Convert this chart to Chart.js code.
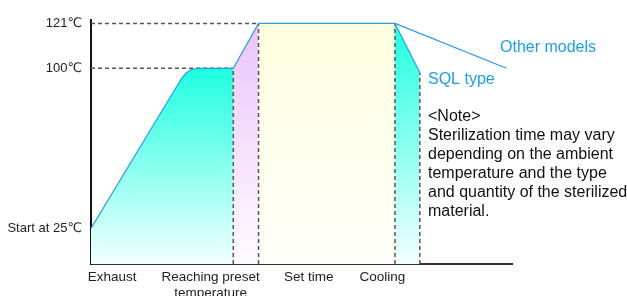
<!DOCTYPE html>
<html>
<head>
<meta charset="utf-8">
<style>
  html, body { margin: 0; padding: 0; background: #ffffff; }
  #wrap { width: 627px; height: 296px; position: relative; }
</style>
<script src="https://cdn.jsdelivr.net/npm/chart.js@4.4.1/dist/chart.umd.min.js"></script>
</head>
<body>
<div id="wrap"><canvas id="c" width="627" height="296"></canvas></div>
<script>
// ---- data (time in arbitrary units 0..100, temperature in ℃) ----
const rampTime  = [0, 20.2, 21.5, 22.6, 23.8, 25.4, 33.8];
const rampTemp  = [25, 91.0, 95.2, 97.8, 99.3, 100, 100];
const heatTime  = [33.8, 39.8];
const heatTemp  = [100, 121];
const holdTime  = [39.8, 72.2];
const holdTemp  = [121, 121];
const sqlCoolTime   = [72.2, 78.1];
const sqlCoolTemp   = [121, 98];
const otherCoolTime = [72.2, 98.7];
const otherCoolTemp = [121, 100];

const yTickValues = [25, 100, 121];
const yTickLabels = ['Start at 25℃', '100℃', '121℃'];
const xTickValues = [5.0, 28.4, 51.7, 69.2];
const xTickLabels = ['Exhaust', ['Reaching preset', 'temperature'], 'Set time', 'Cooling'];

const seriesNames = ['Other models', 'SQL type'];
const noteLines = ['<Note>', 'Sterilization time may vary', 'depending on the ambient',
                   'temperature and the type', 'and quantity of the sterilized', 'material.'];

const X_MIN = 0, X_MAX = 100, Y_MIN = 8.4, Y_MAX = 122.6;

// ---- helpers ----
const pts = (xs, ys) => xs.map((x, i) => ({ x, y: ys[i] }));
const LINE = '#2a9be6';
const FONT = "'Liberation Sans', Arial, 'DejaVu Sans', sans-serif";

function grad(topColor, bottomColor, topTemp) {
  return (ctx) => {
    const chart = ctx.chart;
    const area = chart.chartArea;
    if (!area) return topColor;
    const yTop = chart.scales.y.getPixelForValue(topTemp);
    const g = chart.ctx.createLinearGradient(0, yTop, 0, area.bottom);
    g.addColorStop(0, topColor);
    g.addColorStop(1, bottomColor);
    return g;
  };
}

// guide (dashed) lines built from phase data
const plateauEnd = rampTime[rampTime.length - 1];
const heatEnd = heatTime[1];
const holdEnd = holdTime[1];
const sqlEnd = sqlCoolTime[1];
const guides = [
  pts([X_MIN, heatEnd], [holdTemp[0], holdTemp[0]]),
  pts([X_MIN, plateauEnd], [heatTemp[0], heatTemp[0]]),
  pts([plateauEnd, plateauEnd], [Y_MIN, heatTemp[0]]),
  pts([heatEnd, heatEnd], [Y_MIN, heatTemp[1]]),
  pts([holdEnd, holdEnd], [Y_MIN, holdTemp[1]]),
  pts([sqlEnd, sqlEnd], [Y_MIN, sqlCoolTemp[1]])
];

const solid = { borderColor: LINE, borderWidth: 1.2, pointRadius: 0, tension: 0, fill: 'start' };
const datasets = [
  Object.assign({}, solid, { data: pts(rampTime, rampTemp), backgroundColor: grad('#1effe0', '#f3fffe', 100) }),
  Object.assign({}, solid, { data: pts(heatTime, heatTemp), backgroundColor: grad('#ebc3f9', '#fefbff', 121) }),
  Object.assign({}, solid, { data: pts(holdTime, holdTemp), backgroundColor: grad('#ffffdf', '#fffffb', 121) }),
  Object.assign({}, solid, { data: pts(sqlCoolTime, sqlCoolTemp), backgroundColor: grad('#1effe0', '#f3fffe', 121) }),
  Object.assign({}, solid, { data: pts(otherCoolTime, otherCoolTemp), fill: false }),
].concat(guides.map(g => ({
  data: g, borderColor: '#555555', borderWidth: 1.5, borderDash: [4, 3],
  pointRadius: 0, fill: false, tension: 0
})));

const textPlugin = {
  id: 'texts',
  afterDraw(chart) {
    const c = chart.ctx;
    c.save();
    c.textBaseline = 'middle';
    c.textAlign = 'left';
    c.font = '16px ' + FONT;
    c.fillStyle = '#1a9fe6';
    c.fillText(seriesNames[0], 500, 47.5);
    c.fillText(seriesNames[1], 428, 80);
    c.fillStyle = '#111111';
    noteLines.forEach((t, i) => c.fillText(t, 428, 116.5 + i * 19.1));
    c.restore();
  }
};

new Chart(document.getElementById('c'), {
  type: 'line',
  data: { datasets },
  plugins: [textPlugin],
  options: {
    responsive: false,
    animation: false,
    events: [],
    layout: { padding: { top: 20, right: 115, bottom: 0, left: 0 } },
    plugins: {
      legend: { display: false },
      tooltip: { enabled: false },
      filler: { drawTime: 'beforeDatasetsDraw' }
    },
    scales: {
      x: {
        type: 'linear', min: X_MIN, max: X_MAX,
        grid: { display: false, drawTicks: false },
        border: { display: true, color: '#333333', width: 2 },
        afterBuildTicks: (s) => { s.ticks = xTickValues.map(v => ({ value: v })); },
        afterFit: (s) => { s.height = 32; },
        ticks: {
          autoSkip: false, maxRotation: 0, padding: 5,
          font: { family: FONT, size: 13.5 }, color: '#222222',
          callback: (v) => { const i = xTickValues.indexOf(v); return i >= 0 ? xTickLabels[i] : ''; }
        }
      },
      y: {
        type: 'linear', min: Y_MIN, max: Y_MAX,
        grid: { display: false, drawTicks: false },
        border: { display: true, color: '#111111', width: 2 },
        afterBuildTicks: (s) => { s.ticks = yTickValues.map(v => ({ value: v })); },
        afterFit: (s) => { s.width = 91; },
        ticks: {
          autoSkip: false, padding: 9,
          font: { family: FONT, size: 13 }, color: '#222222',
          callback: (v) => { const i = yTickValues.indexOf(v); return i >= 0 ? yTickLabels[i] : ''; }
        }
      }
    }
  }
});
</script>
</body>
</html>
